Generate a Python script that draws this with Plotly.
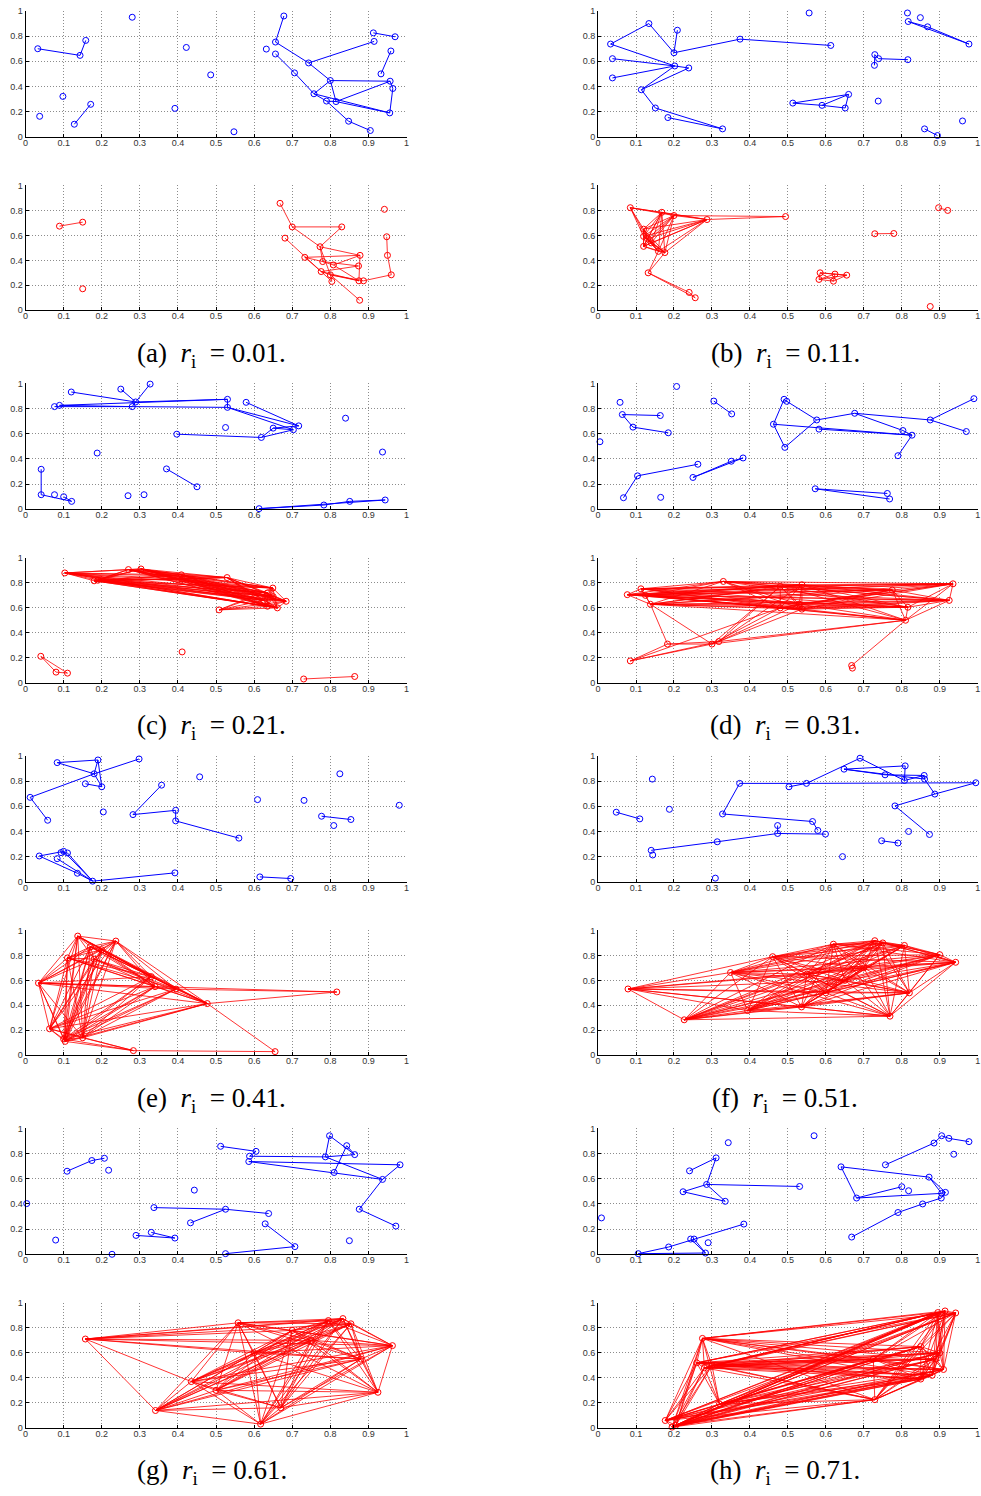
import plotly.graph_objects as go
from itertools import combinations

W, H = 981, 1496

# ---------------- (a) ----------------
a_blue_x = [0.032,0.143,0.158,0.037,0.098,0.128,0.171,0.28,0.422,0.486,0.392,0.547,0.632,0.678,0.656,0.656,0.706,0.743,0.80,0.757,0.79,0.815,0.848,0.905,0.956,0.964,0.957,0.933,0.959,0.915,0.913,0.97]
a_blue_y = [0.70,0.647,0.766,0.163,0.321,0.10,0.258,0.95,0.71,0.492,0.226,0.04,0.697,0.96,0.753,0.658,0.508,0.587,0.447,0.342,0.284,0.28,0.124,0.05,0.19,0.384,0.442,0.50,0.682,0.758,0.826,0.795]
a_blue_edges = [(0,1),(1,2),(5,6),(13,14),(14,17),(17,18),(17,29),(15,16),(16,19),(19,18),(19,20),(20,21),(18,21),(18,26),(21,26),(19,24),(21,24),(26,25),(25,24),(20,22),(22,23),(27,28),(30,31)]
a_red_x = [0.089,0.150,0.150,0.668,0.700,0.830,0.681,0.773,0.733,0.780,0.808,0.776,0.800,0.804,0.878,0.874,0.875,0.887,0.877,0.960,0.950,0.948,0.942]
a_red_y = [0.674,0.706,0.172,0.857,0.668,0.668,0.578,0.509,0.424,0.390,0.363,0.310,0.284,0.231,0.440,0.355,0.236,0.236,0.080,0.284,0.440,0.589,0.809]
a_red_groups = []
a_red_edges = [(0,1),(3,4),(4,5),(4,7),(5,7),(6,11),(7,9),(7,14),(7,12),(8,9),(8,11),(8,14),(9,10),(9,15),(10,14),(11,12),(11,15),(11,16),(12,13),(12,16),(12,17),(12,18),(10,16),(14,16),(11,13),(17,19),(19,20),(20,21)]

# ---------------- (b) ----------------
b_blue_x = [0.033,0.134,0.200,0.209,0.374,0.613,0.038,0.038,0.202,0.239,0.114,0.151,0.184,0.328,0.556,0.513,0.590,0.651,0.660,0.729,0.739,0.728,0.816,0.738,0.815,0.849,0.817,0.868,0.977,0.960,0.860,0.894]
b_blue_y = [0.737,0.900,0.668,0.847,0.776,0.726,0.621,0.468,0.563,0.547,0.374,0.229,0.153,0.063,0.984,0.268,0.250,0.229,0.337,0.653,0.621,0.568,0.613,0.284,0.984,0.947,0.916,0.874,0.737,0.126,0.063,0.010]
b_blue_edges = [(0,1),(1,2),(2,3),(2,4),(4,5),(0,8),(6,8),(7,8),(8,9),(9,10),(8,10),(10,11),(11,13),(12,13),(15,18),(15,16),(16,18),(16,17),(17,18),(19,20),(19,21),(20,22),(26,27),(27,28),(26,28),(30,31)]
b_red_x = [0.085,0.168,0.200,0.287,0.494,0.120,0.120,0.120,0.130,0.140,0.159,0.176,0.132,0.240,0.256,0.729,0.779,0.585,0.582,0.624,0.620,0.655,0.897,0.921,0.875]
b_red_y = [0.822,0.785,0.759,0.727,0.751,0.650,0.592,0.512,0.573,0.540,0.472,0.462,0.300,0.143,0.100,0.613,0.615,0.300,0.247,0.290,0.233,0.281,0.822,0.800,0.030]
b_red_groups = [[1,2,3,5,6,7,8,9,10,11],[17,18,19,20,21]]
b_red_edges = [(0,1),(0,2),(0,3),(0,5),(0,6),(0,8),(3,4),(2,4),(10,12),(11,12),(12,13),(12,14),(13,14),(15,16),(22,23)]

# ---------------- (c) ----------------
c_blue_x = [0.076,0.089,0.120,0.250,0.280,0.289,0.327,0.530,0.530,0.579,0.717,0.703,0.650,0.619,0.397,0.525,0.840,0.937,0.188,0.041,0.041,0.076,0.100,0.121,0.269,0.311,0.370,0.450,0.613,0.783,0.851,0.944]
c_blue_y = [0.816,0.826,0.932,0.955,0.816,0.853,0.995,0.874,0.810,0.850,0.663,0.632,0.645,0.571,0.597,0.650,0.724,0.455,0.447,0.318,0.116,0.116,0.100,0.063,0.108,0.116,0.321,0.179,0.005,0.034,0.063,0.074]
c_blue_edges = [(0,4),(1,4),(1,7),(2,5),(3,5),(4,5),(5,6),(5,7),(4,8),(7,8),(8,10),(8,11),(9,10),(10,12),(11,12),(12,13),(11,13),(13,14),(19,20),(20,23),(22,23),(26,27),(28,29),(28,31),(29,30),(30,31)]
c_red_x = [0.103,0.180,0.190,0.270,0.303,0.409,0.410,0.529,0.508,0.649,0.635,0.625,0.635,0.661,0.684,0.650,0.040,0.080,0.110,0.411,0.730,0.864]
c_red_y = [0.880,0.817,0.822,0.907,0.912,0.865,0.830,0.843,0.584,0.759,0.720,0.660,0.613,0.600,0.653,0.690,0.212,0.085,0.077,0.247,0.030,0.050]
c_red_groups = [[0,1,2,3,4,5,6,7,9,10,11,12,13,14,15]]
c_red_edges = [(8,9),(8,10),(8,11),(8,12),(8,13),(8,14),(16,17),(16,18),(17,18),(20,21)]

# ---------------- (d) ----------------
d_blue_x = [0.058,0.064,0.164,0.092,0.185,0.005,0.207,0.104,0.067,0.165,0.263,0.250,0.351,0.382,0.305,0.352,0.462,0.490,0.497,0.492,0.576,0.582,0.676,0.803,0.827,0.790,0.875,0.970,0.990,0.572,0.762,0.768]
d_blue_y = [0.850,0.753,0.745,0.653,0.608,0.537,0.976,0.266,0.092,0.095,0.358,0.253,0.382,0.408,0.860,0.758,0.676,0.874,0.858,0.492,0.710,0.637,0.763,0.626,0.589,0.426,0.710,0.618,0.879,0.163,0.126,0.082]
d_blue_edges = [(1,2),(1,3),(3,4),(7,8),(7,10),(11,12),(11,13),(12,13),(14,15),(16,17),(17,18),(16,19),(18,20),(19,20),(16,24),(21,24),(20,22),(22,23),(22,26),(23,24),(24,25),(26,27),(26,28),(29,30),(29,31)]
d_red_x = [0.077,0.113,0.125,0.138,0.330,0.480,0.537,0.480,0.530,0.537,0.775,0.816,0.810,0.935,0.925,0.183,0.300,0.318,0.085,0.668,0.670]
d_red_y = [0.706,0.753,0.700,0.629,0.812,0.772,0.785,0.600,0.630,0.590,0.743,0.605,0.501,0.793,0.660,0.310,0.310,0.330,0.175,0.138,0.117]
d_red_groups = [[0,1,2,3,4,5,6,7,8,9,10,11,13,14]]
d_red_edges = [(12,5),(12,6),(12,7),(12,8),(12,9),(12,10),(12,11),(12,13),(12,14),(12,2),(12,3),(3,15),(3,16),(15,16),(15,17),(16,17),(18,15),(18,16),(18,17),(16,5),(17,5),(17,6),(16,7),(17,8),(17,9),(18,7),(12,16),(12,17),(12,19)]

# ---------------- (e) ----------------
e_blue_x = [0.083,0.190,0.180,0.157,0.200,0.298,0.012,0.058,0.204,0.282,0.357,0.394,0.394,0.560,0.457,0.609,0.731,0.825,0.981,0.777,0.854,0.809,0.036,0.083,0.093,0.100,0.110,0.136,0.176,0.392,0.615,0.696]
e_blue_y = [0.947,0.968,0.858,0.779,0.755,0.976,0.671,0.489,0.555,0.534,0.768,0.568,0.484,0.347,0.834,0.653,0.647,0.858,0.608,0.521,0.495,0.447,0.205,0.184,0.232,0.242,0.229,0.068,0.005,0.071,0.039,0.026]
e_blue_edges = [(0,1),(0,2),(1,2),(1,4),(2,4),(3,4),(6,2),(2,5),(6,7),(9,10),(9,11),(11,12),(12,13),(19,20),(22,25),(22,27),(27,28),(23,28),(25,28),(26,28),(24,26),(28,29),(30,31)]
e_red_x = [0.137,0.237,0.170,0.200,0.110,0.180,0.034,0.330,0.395,0.477,0.817,0.063,0.100,0.104,0.150,0.283,0.655,0.340]
e_red_y = [0.955,0.915,0.870,0.845,0.780,0.770,0.578,0.630,0.530,0.414,0.507,0.212,0.130,0.111,0.140,0.037,0.029,0.550]
e_red_groups = [[0,1,2,3,4,5,6,7,8,9,11,12,13,14,17]]
e_red_edges = [(6,10),(9,10),(8,10),(15,11),(15,12),(15,13),(15,14),(15,16),(9,16)]

# ---------------- (f) ----------------
f_blue_x = [0.048,0.110,0.143,0.188,0.140,0.144,0.314,0.309,0.328,0.373,0.503,0.549,0.565,0.579,0.599,0.473,0.473,0.644,0.690,0.648,0.756,0.809,0.807,0.859,0.860,0.887,0.995,0.782,0.873,0.818,0.747,0.790]
f_blue_y = [0.553,0.500,0.816,0.576,0.250,0.213,0.318,0.029,0.539,0.782,0.755,0.782,0.479,0.408,0.379,0.447,0.384,0.200,0.982,0.895,0.850,0.921,0.805,0.845,0.816,0.697,0.787,0.603,0.376,0.400,0.326,0.308]
f_blue_edges = [(0,1),(4,6),(6,16),(16,14),(15,16),(8,9),(8,12),(12,13),(9,11),(10,11),(11,18),(18,22),(19,21),(19,20),(19,24),(20,23),(21,22),(22,23),(23,24),(11,26),(26,25),(25,27),(24,25),(27,28),(30,31)]
f_red_x = [0.079,0.227,0.349,0.394,0.460,0.536,0.620,0.729,0.750,0.807,0.900,0.942,0.769,0.820,0.550,0.650,0.700,0.600]
f_red_y = [0.531,0.284,0.663,0.358,0.790,0.387,0.890,0.918,0.900,0.880,0.806,0.745,0.313,0.500,0.650,0.600,0.700,0.500]
f_red_groups = [[1,2,3,4,5,6,7,8,9,10,11,12,13,14,15,16,17]]
f_red_edges = [(0,1),(0,2),(0,3),(0,4),(0,5),(0,12),(0,13),(0,14),(0,15),(0,16),(0,17)]

# ---------------- (g) ----------------
g_blue_x = [0.003,0.079,0.109,0.174,0.207,0.218,0.227,0.290,0.330,0.392,0.337,0.525,0.638,0.433,0.443,0.512,0.605,0.588,0.586,0.629,0.707,0.525,0.798,0.787,0.843,0.864,0.810,0.983,0.937,0.876,0.972,0.850]
g_blue_y = [0.403,0.113,0.660,0.745,0.763,0.668,0.000,0.150,0.174,0.129,0.371,0.358,0.324,0.250,0.510,0.858,0.818,0.779,0.737,0.242,0.061,0.005,0.942,0.774,0.863,0.792,0.650,0.711,0.595,0.358,0.224,0.108]
g_blue_edges = [(2,3),(3,4),(7,9),(8,9),(10,11),(11,12),(11,13),(15,16),(16,17),(17,23),(18,27),(18,28),(22,23),(22,25),(24,26),(24,25),(23,25),(23,28),(27,28),(28,29),(29,30),(19,20),(20,21)]
g_red_x = [0.157,0.341,0.558,0.617,0.795,0.833,0.854,0.963,0.925,0.435,0.670,0.700,0.750,0.600,0.880,0.500]
g_red_y = [0.711,0.138,0.841,0.029,0.859,0.875,0.833,0.658,0.284,0.370,0.160,0.780,0.700,0.600,0.550,0.300]
g_red_groups = [[1,2,3,4,5,6,7,8,9,10,11,12,13,14,15]]
g_red_edges = [(0,1),(0,2),(0,4),(0,5),(0,6),(0,7),(0,9),(0,11),(0,12),(0,13),(0,14)]

# ---------------- (h) ----------------
h_blue_x = [0.009,0.106,0.186,0.244,0.253,0.283,0.290,0.384,0.241,0.311,0.286,0.224,0.335,0.531,0.343,0.569,0.640,0.681,0.800,0.818,0.872,0.905,0.915,0.904,0.855,0.790,0.668,0.757,0.885,0.905,0.924,0.977,0.937]
h_blue_y = [0.289,0.005,0.058,0.121,0.121,0.010,0.092,0.240,0.663,0.766,0.555,0.497,0.421,0.539,0.887,0.942,0.695,0.447,0.537,0.505,0.613,0.484,0.492,0.447,0.400,0.332,0.137,0.711,0.884,0.942,0.921,0.895,0.795]
h_blue_edges = [(1,2),(2,7),(3,5),(4,5),(1,5),(8,9),(9,10),(10,11),(11,12),(10,12),(10,13),(16,20),(16,17),(17,21),(17,18),(20,21),(20,22),(21,22),(22,23),(23,24),(24,25),(25,26),(27,28),(28,29),(29,30),(30,31)]
h_red_x = [0.177,0.195,0.205,0.275,0.260,0.300,0.320,0.280,0.729,0.725,0.850,0.880,0.910,0.890,0.895,0.914,0.942,0.900,0.850]
h_red_y = [0.058,0.005,0.020,0.716,0.520,0.500,0.190,0.480,0.225,0.550,0.390,0.420,0.467,0.550,0.923,0.936,0.920,0.600,0.650]
h_red_groups = [[0,1,2,3,4,5,6,7,8,9,10,11,12,13,14,15,16,17,18]]
h_red_edges = []

panel_letters = ["a", "b", "c", "d", "e", "f", "g", "h"]
r_values = ["0.01", "0.11", "0.21", "0.31", "0.41", "0.51", "0.61", "0.71"]

panels = [
    (a_blue_x, a_blue_y, a_blue_edges, a_red_x, a_red_y, a_red_groups, a_red_edges),
    (b_blue_x, b_blue_y, b_blue_edges, b_red_x, b_red_y, b_red_groups, b_red_edges),
    (c_blue_x, c_blue_y, c_blue_edges, c_red_x, c_red_y, c_red_groups, c_red_edges),
    (d_blue_x, d_blue_y, d_blue_edges, d_red_x, d_red_y, d_red_groups, d_red_edges),
    (e_blue_x, e_blue_y, e_blue_edges, e_red_x, e_red_y, e_red_groups, e_red_edges),
    (f_blue_x, f_blue_y, f_blue_edges, f_red_x, f_red_y, f_red_groups, f_red_edges),
    (g_blue_x, g_blue_y, g_blue_edges, g_red_x, g_red_y, g_red_groups, g_red_edges),
    (h_blue_x, h_blue_y, h_blue_edges, h_red_x, h_red_y, h_red_groups, h_red_edges),
]

x_ticks = [0, 0.1, 0.2, 0.3, 0.4, 0.5, 0.6, 0.7, 0.8, 0.9, 1]
x_tick_text = ["0", "0.1", "0.2", "0.3", "0.4", "0.5", "0.6", "0.7", "0.8", "0.9", "1"]
y_ticks = [0, 0.2, 0.4, 0.6, 0.8, 1]
y_tick_text = ["0", "0.2", "0.4", "0.6", "0.8", "1"]

fig = go.Figure()
layout_axes = {}

col_px = [(22.7, 406.0), (598.7, 980.7)]


def edge_lines(xs, ys, edges):
    lx, ly = [], []
    for i, j in edges:
        lx += [xs[i], xs[j], None]
        ly += [ys[i], ys[j], None]
    return lx, ly


def add_panel(idx, xs, ys, edges, color, lw, x_dom, y_dom):
    n = "" if idx == 1 else str(idx)
    lx, ly = edge_lines(xs, ys, edges)
    fig.add_trace(go.Scatter(x=lx, y=ly, mode="lines", line=dict(color=color, width=lw),
                             xaxis="x" + n, yaxis="y" + n, showlegend=False,
                             hoverinfo="skip", cliponaxis=False))
    fig.add_trace(go.Scatter(x=xs, y=ys, mode="markers",
                             marker=dict(symbol="circle-open", size=6, color=color, line=dict(width=1, color=color)),
                             xaxis="x" + n, yaxis="y" + n, showlegend=False, cliponaxis=False))
    common = dict(range=[0, 1], showgrid=True, gridcolor="#8c8c8c", griddash="1px,2px", gridwidth=1,
                  showline=True, linecolor="black", linewidth=1, ticks="inside", ticklen=3,
                  tickcolor="black", zeroline=False, fixedrange=True,
                  tickfont=dict(family="Liberation Sans, Arial, sans-serif", size=9, color="#333"))
    layout_axes["xaxis" + n] = dict(common, domain=x_dom, anchor="y" + n,
                                    tickvals=x_ticks, ticktext=x_tick_text, ticklabelstandoff=-3)
    layout_axes["yaxis" + n] = dict(common, domain=y_dom, anchor="x" + n,
                                    tickvals=y_ticks, ticktext=y_tick_text)


annotations = []
for k, (bx, by, be, rx, ry, rg, re_) in enumerate(panels):
    col, row = k % 2, k // 2
    x_dom = [col_px[col][0] / W, col_px[col][1] / W]
    off = 375 * row
    blue_dom = [1 - (132.7 + off) / H, 1 - (6 + off) / H]
    red_dom = [1 - (307.3 + off) / H, 1 - (181.7 + off) / H]
    red_edges = list(re_)
    for grp in rg:
        red_edges += list(combinations(grp, 2))
    add_panel(2 * k + 1, bx, by, be, "#0000ff", 1, x_dom, blue_dom)
    add_panel(2 * k + 2, rx, ry, red_edges, "#ff0000", 0.8, x_dom, red_dom)
    cx = 210 if col == 0 else 787
    cy = 352 + off
    annotations.append(dict(
        text="(%s)&nbsp;&nbsp;<i>r</i><sub>i</sub>&nbsp;&nbsp;=&nbsp;%s." % (panel_letters[k], r_values[k]),
        x=cx / W, y=1 - cy / H, xref="paper", yref="paper", xanchor="center", yanchor="middle",
        showarrow=False, font=dict(family="Liberation Serif, Times New Roman, serif", size=27, color="black")))

fig.update_layout(width=W, height=H, margin=dict(l=0, r=0, t=0, b=0),
                  paper_bgcolor="white", plot_bgcolor="white",
                  annotations=annotations, **layout_axes)

fig.write_html("out.html")
